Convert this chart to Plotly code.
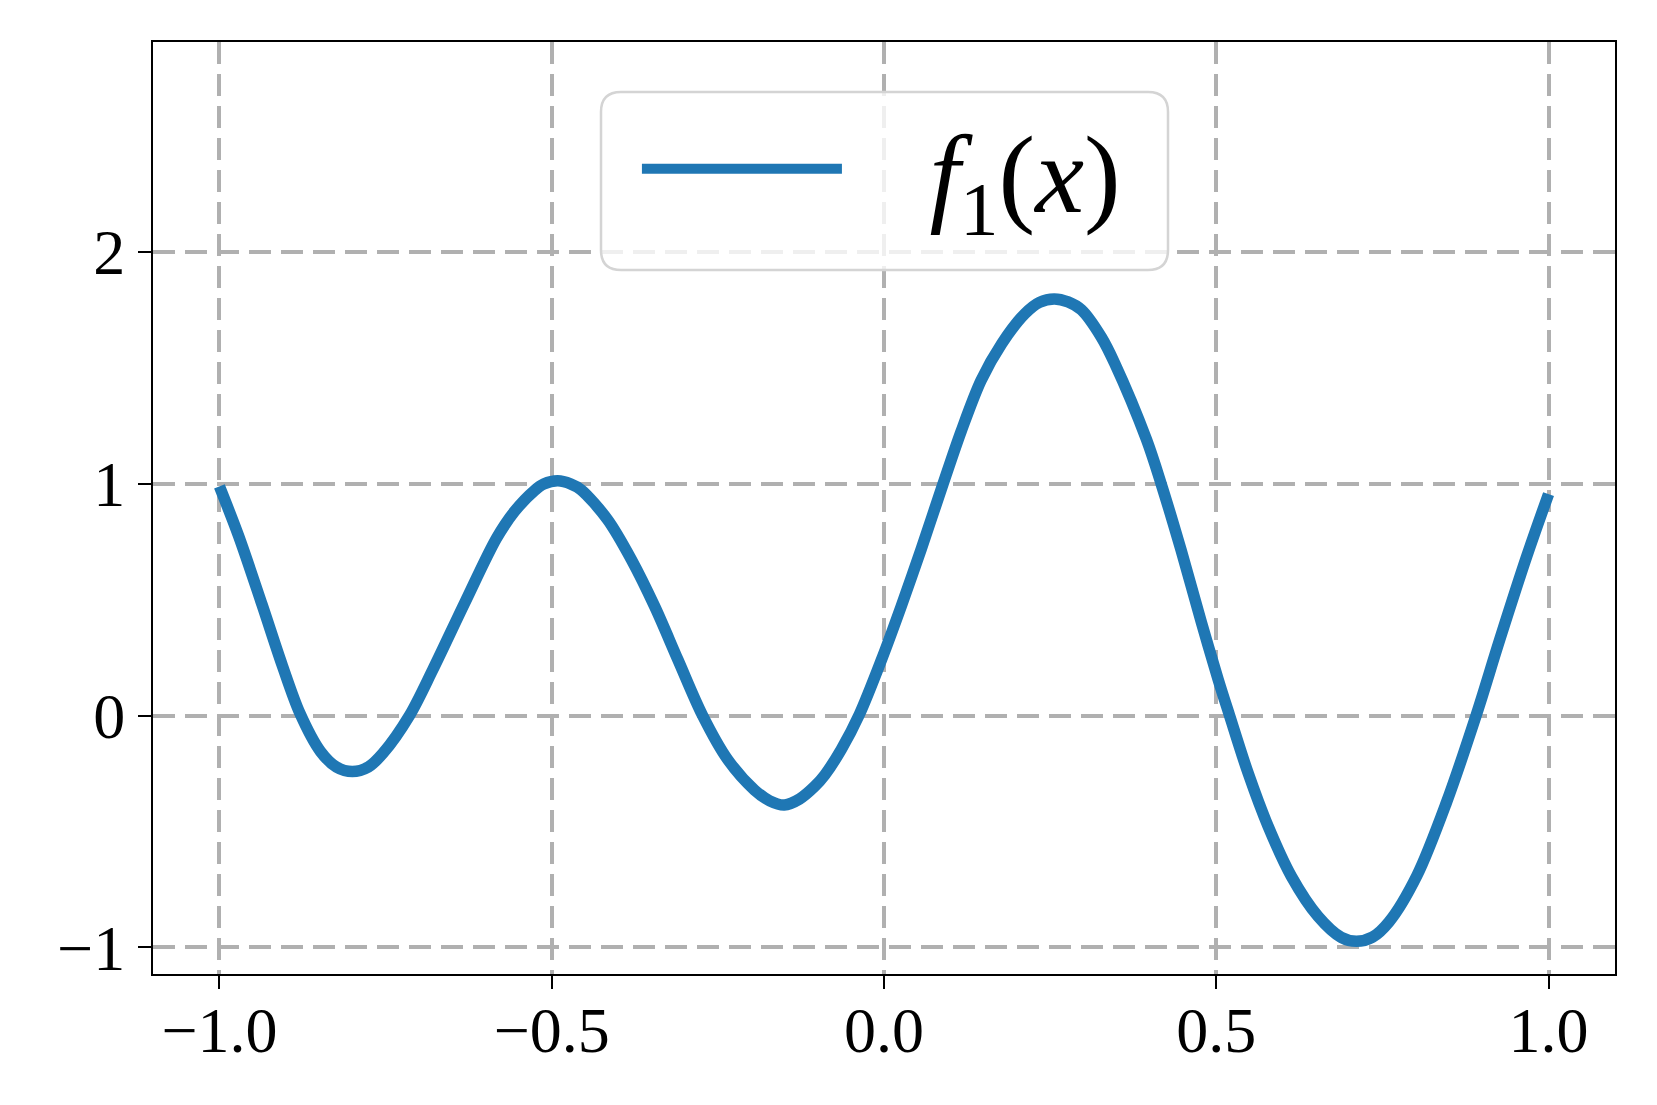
import plotly.graph_objects as go

# ---- data ----
x_vals = [-1.0, -0.971, -0.936, -0.905, -0.879, -0.848, -0.824, -0.800, -0.776, -0.754,
          -0.714, -0.679, -0.631, -0.583, -0.556, -0.526, -0.512, -0.491, -0.471, -0.456,
          -0.416, -0.380, -0.345, -0.310, -0.273, -0.235, -0.195, -0.172, -0.150, -0.127,
          -0.104, -0.089, -0.064, -0.037, -0.004, 0.026, 0.056, 0.089, 0.116, 0.146,
          0.177, 0.212, 0.234, 0.256, 0.277, 0.297, 0.327, 0.347, 0.395, 0.417,
          0.447, 0.478, 0.503, 0.520, 0.548, 0.578, 0.613, 0.653, 0.688, 0.711,
          0.735, 0.760, 0.802, 0.846, 0.891, 0.926, 0.967, 1.0]
f1_vals = [0.988, 0.773, 0.479, 0.212, 0.010, -0.155, -0.222, -0.242, -0.222, -0.163,
           0.0, 0.197, 0.485, 0.765, 0.880, 0.970, 0.998, 1.012, 0.998, 0.974,
           0.845, 0.672, 0.470, 0.240, 0.0, -0.191, -0.321, -0.368, -0.386, -0.360,
           -0.305, -0.256, -0.145, 0.005, 0.239, 0.472, 0.718, 1.0, 1.225, 1.445,
           1.603, 1.733, 1.782, 1.797, 1.784, 1.750, 1.632, 1.520, 1.190, 1.0,
           0.714, 0.398, 0.154, 0.0, -0.249, -0.478, -0.694, -0.866, -0.957, -0.974,
           -0.956, -0.890, -0.690, -0.378, 0.0, 0.322, 0.685, 0.955]
series_name = "\u2002\u2005<i>f</i><sub>1</sub>(<i>x</i>)"

x_tick_vals = [-1.0, -0.5, 0.0, 0.5, 1.0]
x_tick_text = ["\u22121.0", "\u22120.5", "0.0", "0.5", "1.0"]
y_tick_vals = [-1, 0, 1, 2]
y_tick_text = ["\u22121", "0", "1", "2"]

# page has an 8px body margin -> figure drawn at (8, 8)
OFF = 8
W, H = 1657 - 2 * OFF, 1105 - 2 * OFF
ML, MT = 153 - OFF, 42 - OFF
PW, PH = 1462, 932
MR, MB = W - ML - PW, H - MT - PH

fig = go.Figure()
fig.add_trace(go.Scatter(
    x=x_vals, y=f1_vals, mode="lines", name=series_name,
    line=dict(color="#1f77b4", width=11.5, shape="spline", smoothing=0.9),
))

# rounded legend frame (page pixel coords -> paper)
def rounded_rect(px0, py0, px1, py1, r):
    def X(p):
        return (p - OFF - ML) / PW
    def Y(p):
        return (MT + PH - (p - OFF)) / PH
    return (f"M {X(px0 + r)},{Y(py0)} L {X(px1 - r)},{Y(py0)} "
            f"Q {X(px1)},{Y(py0)} {X(px1)},{Y(py0 + r)} "
            f"L {X(px1)},{Y(py1 - r)} Q {X(px1)},{Y(py1)} {X(px1 - r)},{Y(py1)} "
            f"L {X(px0 + r)},{Y(py1)} Q {X(px0)},{Y(py1)} {X(px0)},{Y(py1 - r)} "
            f"L {X(px0)},{Y(py0 + r)} Q {X(px0)},{Y(py0)} {X(px0 + r)},{Y(py0)} Z")

fig.add_shape(type="path", xref="paper", yref="paper",
              path=rounded_rect(601, 92, 1168, 270, 20),
              fillcolor="rgba(255,255,255,0.8)",
              line=dict(color="#d4d4d4", width=2.5), layer="above")

axis_common = dict(
    showline=True, linecolor="black", linewidth=2, mirror=True,
    ticks="outside", ticklen=13, tickwidth=2, tickcolor="black",
    showgrid=True, gridcolor="#b0b0b0", gridwidth=4, griddash="22px,10px",
    zeroline=False,
    tickfont=dict(family="Liberation Serif", size=64, color="black"),
)

fig.update_layout(
    width=W, height=H,
    margin=dict(l=ML, r=MR, t=MT, b=MB),
    paper_bgcolor="white", plot_bgcolor="white",
    xaxis=dict(range=[-1.1, 1.1], tickvals=x_tick_vals, ticktext=x_tick_text,
               ticklabelstandoff=-14, **axis_common),
    yaxis=dict(range=[-1.115, 2.905], tickvals=y_tick_vals, ticktext=y_tick_text, **axis_common),
    showlegend=True,
    legend=dict(
        x=0.331, y=0.864, xanchor="left", yanchor="middle",
        bgcolor="rgba(0,0,0,0)", borderwidth=0,
        itemwidth=200,
        font=dict(family="Liberation Serif", size=110, color="black"),
    ),
)

fig.write_html("out.html")
